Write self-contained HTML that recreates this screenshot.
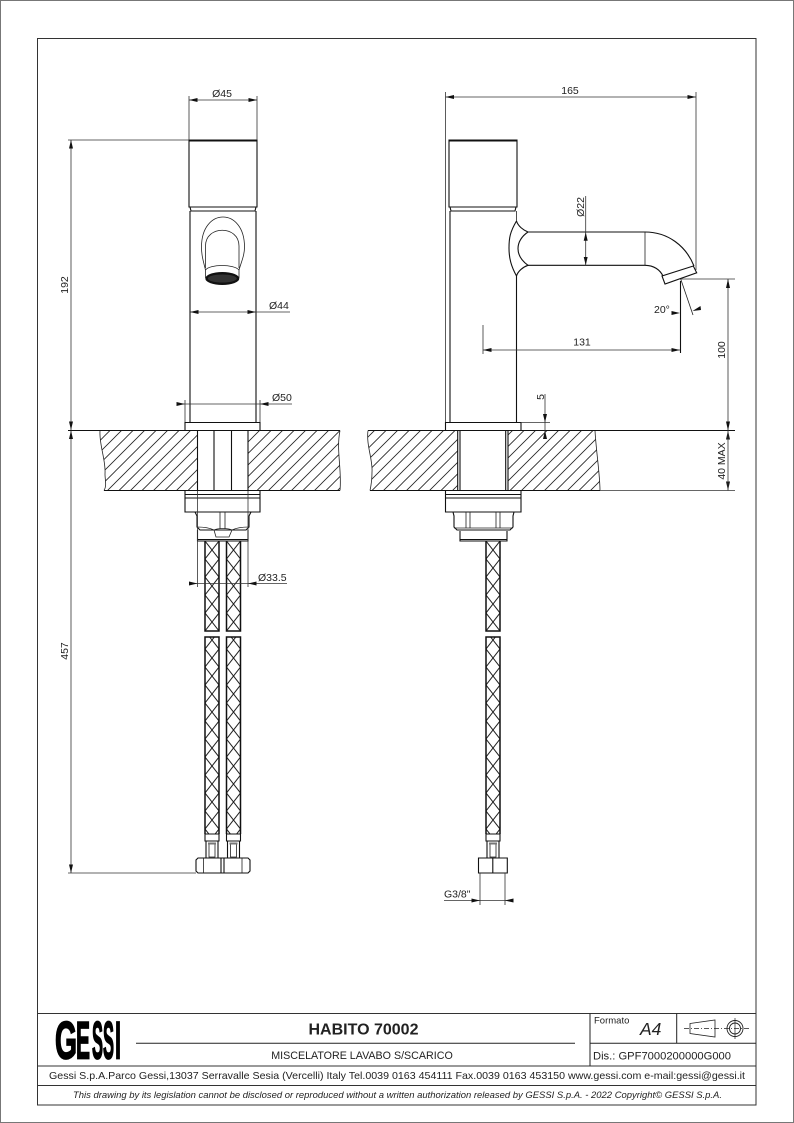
<!DOCTYPE html>
<html><head><meta charset="utf-8"><style>
html,body{margin:0;padding:0;background:#fff}svg{display:block}
text{font-family:"Liberation Sans",sans-serif;fill:#222}
.m{fill:none;stroke:#111;stroke-width:1.1}
.h{fill:none;stroke:#111;stroke-width:1.5}
.t{fill:none;stroke:#222;stroke-width:.8}
.d{fill:none;stroke:#333;stroke-width:.8}
.a{fill:none;stroke:#333;stroke-width:.8;marker-start:url(#ar);marker-end:url(#ar)}
.lg{font-weight:bold;fill:#000;stroke:#000;stroke-width:1.8}
</style></head><body>
<svg width="794" height="1123" viewBox="0 0 794 1123" xmlns="http://www.w3.org/2000/svg">
<defs>
<marker id="ar" markerUnits="userSpaceOnUse" markerWidth="9" markerHeight="6" refX="8.500" refY="2.500" orient="auto-start-reverse"><path d="M0 .5L8.500 2.500L0 4.500Z" fill="#111"/></marker>
<pattern id="hatch" patternUnits="userSpaceOnUse" width="11.500" height="11.500"><path d="M-1 12.500L12.500 -1M-1 1L1 -1M10.500 12.500L12.500 10.500" stroke="#222" stroke-width=".8" fill="none"/></pattern>
<pattern id="b1" patternUnits="userSpaceOnUse" x="205" y="541" width="14" height="36"><path d="M0 0L14 18L0 36M14 0L0 18L14 36" stroke="#222" stroke-width="1" fill="none"/></pattern>
<pattern id="b2" patternUnits="userSpaceOnUse" x="226.500" y="541" width="14" height="36"><path d="M0 0L14 18L0 36M14 0L0 18L14 36" stroke="#222" stroke-width="1" fill="none"/></pattern>
<pattern id="b3" patternUnits="userSpaceOnUse" x="486" y="541" width="14" height="36"><path d="M0 0L14 18L0 36M14 0L0 18L14 36" stroke="#222" stroke-width="1" fill="none"/></pattern>
</defs>
<rect width="794" height="1123" fill="#fff"/>
<rect x=".5" y=".5" width="793" height="1122" fill="none" stroke="#777" stroke-width="1"/>
<rect x="37.500" y="38.500" width="718.500" height="1066.500" fill="none" stroke="#333" stroke-width="1"/>

<!-- LEFT slab -->
<path d="M100 430.500C99 445 106 460 105 474C105 480 107 486 104 490.500H197.500V430.500Z" fill="url(#hatch)"/>
<path d="M248 430.500V490.500H340C342 470 336 450 340 430.500Z" fill="url(#hatch)"/>
<path class="t" d="M100 430.500C99 445 106 460 105 474C105 480 107 486 104 490.500"/>
<path class="m" d="M68 430.500H340M104 490.500H340"/>
<path class="t" d="M340 430.500C336 450 342 470 340 490.500"/>
<!-- LEFT tap -->
<path class="m" d="M189 140H257V207H189ZM189 141H257"/>
<path class="m" d="M190 207L191 211H255L256 207M190 211V422M256 211V422"/>
<path class="m" d="M185 422.500H260V430.500H185Z"/>
<path class="m" d="M197.500 430.500V491M248 430.500V491M214 430.500V491M231.500 430.500V491"/>
<path class="t" d="M205.500 268V246C205.500 225 239 225 239 246V268"/>
<path class="t" d="M205.500 270C203 260 201.500 255 201.500 247C201.500 207 244.500 207 244.500 247C244.500 255 242 260 239 270"/>
<path class="t" d="M205.500 270C210 264 234 264 239 270"/>
<path class="t" d="M205.500 270V278M239 270V278"/>
<ellipse cx="222.300" cy="278.500" rx="17" ry="6.500" fill="#111"/>
<ellipse cx="222.300" cy="278.500" rx="14.500" ry="4" fill="#333"/>
<!-- LEFT bottom -->
<path class="m" d="M185 491V512H260V491M185 494.500H260M185 498H260"/>
<path class="m" d="M195 512L197 516V527L200 530H246L249 527V516L251 512"/>
<path class="t" d="M220 512V529M225 512V529M197 527C205 527 210 528 214 530C218 528 228 528 232 530C236 528 241 527 249 527"/>
<path class="m" d="M197.500 530V541H248V530M197.500 539.500H248"/>
<path class="t" d="M214 530L216 537H229L232 530"/>
<!-- left hoses -->
<rect x="205" y="541" width="14" height="90" fill="url(#b1)"/>
<rect x="226.500" y="541" width="14" height="90" fill="url(#b2)"/>
<rect x="205" y="637" width="14" height="197" fill="url(#b1)"/>
<rect x="226.500" y="637" width="14" height="197" fill="url(#b2)"/>
<path class="h" d="M205 541V631H219V541M226.500 541V631H240.500V541M205 834V637H219V834M226.500 834V637H240.500V834"/>
<path class="m" d="M205 834H219V841H205ZM226.500 834H240.500V841H226.500Z"/>
<path class="m" d="M206 841V858M218 841V858M227.500 841V858M239.500 841V858"/>
<path class="t" d="M209 844H215V857H209ZM230.500 844H236.500V857H230.500Z"/>
<path d="M208 843.500H216M229.500 843.500H237.500" stroke="#777" stroke-width="2"/>
<path class="m" d="M198 858H248L250 860V871L248 873H198L196 871V860ZM221 858V873M224 858V873"/>
<path class="t" d="M203.500 858V873M242 858V873"/>
<!-- left dims -->
<path class="d" d="M189 96V140M257 96V140M68 140H189M68 873H196"/>
<path class="a" d="M189 100H257"/>
<path class="a" d="M71 140V430"/>
<path class="a" d="M71 430.500V873"/>
<path class="a" d="M190 312H256"/>
<path class="d" d="M256 312H290"/>
<path class="d" d="M185 400V422M260 400V422"/>
<path class="d" d="M177 404H292"/>
<path d="M185 404L176.500 402V406Z M260 404L268.500 402V406Z" fill="#111"/>
<path class="d" d="M197.500 491V587M248 491V587"/>
<path class="d" d="M190 583.500H287"/>
<path d="M197.500 583.500L189 581.500V585.500ZM248 583.500L256.500 581.500V585.500Z" fill="#111"/>
<text x="222" y="97" font-size="10.500" text-anchor="middle">Ø45</text>
<text x="269" y="309" font-size="10.500">Ø44</text>
<text x="272" y="401" font-size="10.500">Ø50</text>
<text x="258" y="581" font-size="10.500">Ø33.5</text>
<text transform="translate(68,285) rotate(-90)" font-size="10.500" text-anchor="middle">192</text>
<text transform="translate(68,651) rotate(-90)" font-size="10.500" text-anchor="middle">457</text>

<!-- RIGHT slab -->
<path d="M368 430.500C366 445 373 460 372 472C372 480 371 486 370 490.500H458V430.500Z" fill="url(#hatch)"/>
<path d="M508 430.500V490.500H600C600 475 596 450 595 430.500Z" fill="url(#hatch)"/>
<path class="t" d="M368 430.500C366 445 373 460 372 472C372 480 371 486 370 490.500M595 430.500C596 450 600 475 600 490.500"/>
<path class="m" d="M368 430.500H735M370 490.500H600"/>
<path class="d" d="M600 490.500H735"/>
<!-- RIGHT tap -->
<path class="m" d="M449 140H517V207H449ZM449 141H517"/>
<path class="m" d="M450 207L451 211H515L516 207M450 211V422M516.500 276V422"/>
<path class="t" d="M516.500 211V221"/>
<path class="m" d="M445.500 422.500H521V430.500H445.500Z"/>
<path class="m" d="M457.700 430.500V491M460 430.500V491M505.700 430.500V491M508 430.500V491"/>
<path class="m" d="M516.500 221C510 232 509 238 509 248C509 258 511 266 516.500 276"/>
<path class="m" d="M516.500 221C518 226 523 230 528 232C522 236 518 242 518 248.500C518 255 522 261 528 265.300C523 267 518 271 516.500 276"/>
<path class="m" d="M528 232H645M528 265.300H645"/>
<path class="t" d="M645 232V265.300"/>
<path class="m" d="M645 232C668 232 686 246 694 266M645 265.300C654 265.300 660 270 663 276"/>
<path class="m" d="M693.300 266L696.700 272.800L665 284L662 276Z"/>
<!-- RIGHT bottom -->
<path class="m" d="M445.500 491V512H521V491M445.500 494.500H521M445.500 498H521"/>
<path class="m" d="M453 512L454 516V527L457 530H510L513 527V516L514 512"/>
<path class="t" d="M466 512V528M470 512V528M496 512V528M500 512V528M454 528H513"/>
<path class="m" d="M460 531V541H507V531M460 539.500H507"/>
<rect x="486" y="541" width="14" height="90" fill="url(#b3)"/>
<rect x="486" y="637" width="14" height="197" fill="url(#b3)"/>
<path class="h" d="M486 541V631H500V541M486 834V637H500V834"/>
<path class="m" d="M486 834H500V841H486Z M487 841V858M499 841V858"/>
<path class="t" d="M490 844H496V857H490Z"/>
<path d="M489 843.500H497" stroke="#777" stroke-width="2"/>
<path class="m" d="M478.500 858H507.300V873H478.500ZM492.800 858V873"/>
<!-- right dims -->
<path class="d" d="M445.500 92V422M696 92V270"/>
<path class="a" d="M445.500 97H696"/>
<path class="d" d="M585.700 196V232"/>
<path class="a" d="M585.700 232.300V265.300"/>
<path class="m" d="M680.500 281V353"/>
<path class="a" d="M483 350H680"/>
<path class="d" d="M483 325V354"/>
<path class="t" d="M680.700 279L693 315"/>
<path d="M680 313L671.500 311V315Z M692.500 311L700.500 306L701 310Z" fill="#111"/>
<path class="d" d="M681 279H735M521 422.500H550M728 430.500V279"/>
<path d="M728 279L726 288H730ZM728 430.500L726 421.500H730ZM728 430.500L726 439.500H730ZM728 490.500L726 481.500H730Z" fill="#111"/>
<path class="d" d="M728 430.500V490.500"/>
<path class="d" d="M545 394V438"/>
<path d="M545 422.500L543 414H547ZM545 430.500L543 439H547Z" fill="#111"/>
<path class="d" d="M480 873V905M505 873V905M444 900.500H513"/>
<path d="M480 900.500L471.500 898.500V902.500ZM505 900.500L513.500 898.500V902.500Z" fill="#111"/>
<text x="570" y="94" font-size="10.500" text-anchor="middle">165</text>
<text x="582" y="345.500" font-size="10.500" text-anchor="middle">131</text>
<text x="654" y="313" font-size="10.500">20°</text>
<text x="444" y="897.500" font-size="10.500">G3/8"</text>
<text transform="translate(584,207) rotate(-90)" font-size="10.500" text-anchor="middle">Ø22</text>
<text transform="translate(544,397) rotate(-90)" font-size="10.500" text-anchor="middle">5</text>
<text transform="translate(725,350) rotate(-90)" font-size="10.500" text-anchor="middle">100</text>
<text transform="translate(725,461) rotate(-90)" font-size="10.500" text-anchor="middle">40 MAX</text>

<!-- TITLE BLOCK -->
<path d="M37.500 1013.500H756M37.500 1066H756M37.500 1085.500H756" fill="none" stroke="#333" stroke-width="1"/>
<path d="M590 1013.500V1066M676.700 1013.500V1043M590 1043.300H756M136 1043.300H575" fill="none" stroke="#222" stroke-width="1"/>
<text x="55" y="1058.500" font-size="53" class="lg" textLength="22" lengthAdjust="spacingAndGlyphs">G</text>
<text x="76" y="1058.500" font-size="53" class="lg" textLength="14" lengthAdjust="spacingAndGlyphs">E</text>
<text x="92" y="1058.500" font-size="53" class="lg" textLength="11" lengthAdjust="spacingAndGlyphs">S</text>
<text x="103" y="1058.500" font-size="53" class="lg" textLength="11" lengthAdjust="spacingAndGlyphs">S</text>
<text x="115" y="1058.500" font-size="53" class="lg" textLength="6" lengthAdjust="spacingAndGlyphs">I</text>
<text x="363.500" y="1034.500" font-size="16" font-weight="bold" text-anchor="middle" fill="#111">HABITO 70002</text>
<text x="362" y="1059" font-size="10.700" text-anchor="middle">MISCELATORE LAVABO S/SCARICO</text>
<text x="594" y="1023.500" font-size="9.500">Formato</text>
<text x="640" y="1035" font-size="17.500" font-style="italic">A4</text>
<text x="593" y="1059.500" font-size="11" textLength="138" lengthAdjust="spacingAndGlyphs">Dis.: GPF7000200000G000</text>
<text x="49" y="1079" font-size="10.500" textLength="696" lengthAdjust="spacingAndGlyphs">Gessi S.p.A.Parco Gessi,13037 Serravalle Sesia (Vercelli) Italy Tel.0039 0163 454111 Fax.0039 0163 453150 www.gessi.com e-mail:gessi@gessi.it</text>
<text x="73" y="1098" font-size="8.800" font-style="italic" textLength="649" lengthAdjust="spacingAndGlyphs">This drawing by its legislation cannot be disclosed or reproduced without a written authorization released by GESSI S.p.A. - 2022 Copyright© GESSI S.p.A.</text>
<!-- projection symbol -->
<path d="M690 1023.500L715 1020V1037L690 1033.500Z" fill="none" stroke="#222" stroke-width=".8"/>
<path d="M684 1028.500H750" fill="none" stroke="#222" stroke-width=".7" stroke-dasharray="5 2 1 2"/>
<circle cx="735" cy="1028.500" r="8" fill="none" stroke="#222" stroke-width=".9"/>
<circle cx="735" cy="1028.500" r="5.500" fill="none" stroke="#222" stroke-width=".9"/>
<path d="M735 1018V1039" stroke="#222" stroke-width=".7"/>
</svg>
</body></html>
